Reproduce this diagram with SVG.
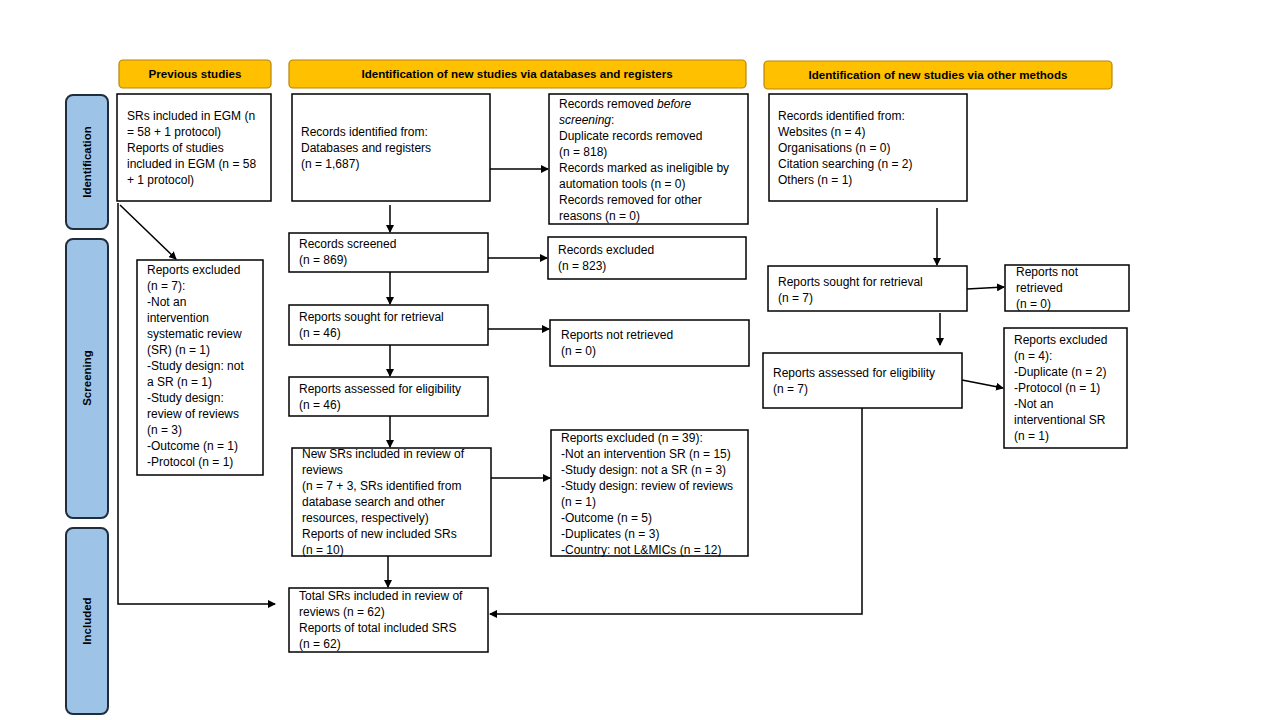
<svg xmlns="http://www.w3.org/2000/svg" width="1280" height="720" viewBox="0 0 1280 720">
<style>
.hdr{fill:#FFC000;stroke:#B8860B;stroke-width:1.2}
.phase{fill:#9DC3E6;stroke:#1F2D3D;stroke-width:2}
.box{fill:#fff;stroke:#000;stroke-width:1.5}
text{font-family:"Liberation Sans",Arial,sans-serif;font-size:12px;fill:#000}
.ht{font-weight:bold;font-size:11.6px;text-anchor:middle}
.pt{font-weight:bold;font-size:11.5px;text-anchor:middle}
.con line,.con polyline{stroke:#000;stroke-width:1.5;fill:none}
</style>
<defs>
<marker id="ah" markerWidth="8" markerHeight="8" refX="7" refY="4" orient="auto" markerUnits="userSpaceOnUse">
<path d="M0,0 L8,4 L0,8 z" fill="#000"/>
</marker>
</defs>
<rect width="1280" height="720" fill="#fff"/>

<g id="hdr-prev"><rect class="hdr" x="119" y="60" width="152" height="28" rx="4"/><text class="ht" x="195" y="78">Previous studies</text></g>
<g id="hdr-db"><rect class="hdr" x="289" y="60" width="457" height="28" rx="4"/><text class="ht" x="517" y="78">Identification of new studies via databases and registers</text></g>
<g id="hdr-other"><rect class="hdr" x="764" y="61" width="348" height="28" rx="4"/><text class="ht" x="938" y="79">Identification of new studies via other methods</text></g>

<g id="phase-ident"><rect class="phase" x="66" y="95" width="42" height="134" rx="7"/><text class="pt" transform="translate(91,162) rotate(-90)">Identification</text></g>
<g id="phase-screen"><rect class="phase" x="66" y="239" width="42" height="279" rx="7"/><text class="pt" transform="translate(91,378) rotate(-90)">Screening</text></g>
<g id="phase-incl"><rect class="phase" x="66" y="528" width="42" height="186" rx="7"/><text class="pt" transform="translate(91,621) rotate(-90)">Included</text></g>

<g id="prev-srs"><rect class="box" x="117" y="94" width="154" height="107"/>
<text x="127" y="120">SRs included in EGM (n</text><text x="127" y="136">= 58 + 1 protocol)</text><text x="127" y="152">Reports of studies</text><text x="127" y="168">included in EGM (n = 58</text><text x="127" y="184">+ 1 protocol)</text></g>

<g id="db-ident"><rect class="box" x="292" y="94" width="198" height="107"/>
<text x="301" y="136">Records identified from:</text><text x="301" y="152">Databases and registers</text><text x="301" y="168">(n = 1,687)</text></g>

<g id="db-removed"><rect class="box" x="549" y="94" width="199" height="130"/>
<text x="559" y="108">Records removed <tspan font-style="italic">before</tspan></text><text x="559" y="124"><tspan font-style="italic">screening</tspan>:</text><text x="559" y="140">Duplicate records removed</text><text x="559" y="156">(n = 818)</text><text x="559" y="172">Records marked as ineligible by</text><text x="559" y="188">automation tools (n = 0)</text><text x="559" y="204">Records removed for other</text><text x="559" y="220">reasons (n = 0)</text></g>

<g id="oth-ident"><rect class="box" x="769" y="94" width="198" height="107"/>
<text x="778" y="120">Records identified from:</text><text x="778" y="136">Websites (n = 4)</text><text x="778" y="152">Organisations (n = 0)</text><text x="778" y="168">Citation searching (n = 2)</text><text x="778" y="184">Others (n = 1)</text></g>

<g id="prev-excl"><rect class="box" x="137" y="260" width="126" height="215"/>
<text x="147" y="274">Reports excluded</text><text x="147" y="290">(n = 7):</text><text x="147" y="306">-Not an</text><text x="147" y="322">intervention</text><text x="147" y="338">systematic review</text><text x="147" y="354">(SR) (n = 1)</text><text x="147" y="370">-Study design: not</text><text x="147" y="386">a SR (n = 1)</text><text x="147" y="402">-Study design:</text><text x="147" y="418">review of reviews</text><text x="147" y="434">(n = 3)</text><text x="147" y="450">-Outcome (n = 1)</text><text x="147" y="466">-Protocol (n = 1)</text></g>

<g id="db-screened"><rect class="box" x="289" y="233" width="199" height="39"/>
<text x="299" y="248">Records screened</text><text x="299" y="264">(n = 869)</text></g>

<g id="db-excl"><rect class="box" x="548" y="237" width="198" height="42"/>
<text x="558" y="254">Records excluded</text><text x="558" y="270">(n = 823)</text></g>

<g id="db-sought"><rect class="box" x="289" y="305" width="199" height="40"/>
<text x="299" y="321">Reports sought for retrieval</text><text x="299" y="337">(n = 46)</text></g>

<g id="db-notret"><rect class="box" x="550" y="320" width="199" height="46"/>
<text x="561" y="339">Reports not retrieved</text><text x="561" y="355">(n = 0)</text></g>

<g id="db-assessed"><rect class="box" x="289" y="377" width="199" height="39"/>
<text x="299" y="393">Reports assessed for eligibility</text><text x="299" y="409">(n = 46)</text></g>

<g id="db-new"><rect class="box" x="292" y="448" width="199" height="108"/>
<text x="302" y="458">New SRs included in review of</text><text x="302" y="474">reviews</text><text x="302" y="490">(n = 7 + 3, SRs identified from</text><text x="302" y="506">database search and other</text><text x="302" y="522">resources, respectively)</text><text x="302" y="538">Reports of new included SRs</text><text x="302" y="554">(n = 10)</text></g>

<g id="db-excl39"><rect class="box" x="551" y="430" width="197" height="126"/>
<text x="561" y="442">Reports excluded (n = 39):</text><text x="561" y="458">-Not an intervention SR (n = 15)</text><text x="561" y="474">-Study design: not a SR (n = 3)</text><text x="561" y="490">-Study design: review of reviews</text><text x="561" y="506">(n = 1)</text><text x="561" y="522">-Outcome (n = 5)</text><text x="561" y="538">-Duplicates (n = 3)</text><text x="561" y="554">-Country: not L&amp;MICs (n = 12)</text></g>

<g id="total"><rect class="box" x="289" y="588" width="199" height="64"/>
<text x="299" y="600">Total SRs included in review of</text><text x="299" y="616">reviews (n = 62)</text><text x="299" y="632">Reports of total included SRS</text><text x="299" y="648">(n = 62)</text></g>

<g id="oth-sought"><rect class="box" x="768" y="266" width="199" height="45"/>
<text x="778" y="286">Reports sought for retrieval</text><text x="778" y="302">(n = 7)</text></g>

<g id="oth-notret"><rect class="box" x="1005" y="265" width="124" height="46"/>
<text x="1016" y="276">Reports not</text><text x="1016" y="292">retrieved</text><text x="1016" y="308">(n = 0)</text></g>

<g id="oth-assessed"><rect class="box" x="763" y="353" width="199" height="55"/>
<text x="773" y="377">Reports assessed for eligibility</text><text x="773" y="393">(n = 7)</text></g>

<g id="oth-excl"><rect class="box" x="1004" y="328" width="123" height="120"/>
<text x="1014" y="344">Reports excluded</text><text x="1014" y="360">(n = 4):</text><text x="1014" y="376">-Duplicate (n = 2)</text><text x="1014" y="392">-Protocol (n = 1)</text><text x="1014" y="408">-Not an</text><text x="1014" y="424">interventional SR</text><text x="1014" y="440">(n = 1)</text></g>

<g id="connectors" class="con">
<line x1="390" y1="205" x2="390" y2="232" marker-end="url(#ah)"/>
<line x1="490" y1="169" x2="548" y2="169" marker-end="url(#ah)"/>
<line x1="488" y1="258" x2="547" y2="258" marker-end="url(#ah)"/>
<line x1="390" y1="272" x2="390" y2="304" marker-end="url(#ah)"/>
<line x1="488" y1="329" x2="549" y2="329" marker-end="url(#ah)"/>
<line x1="390" y1="345" x2="390" y2="376" marker-end="url(#ah)"/>
<line x1="390" y1="416" x2="390" y2="447" marker-end="url(#ah)"/>
<line x1="491" y1="478" x2="550" y2="478" marker-end="url(#ah)"/>
<line x1="388" y1="556" x2="388" y2="587" marker-end="url(#ah)"/>
<polyline points="118,203 118,604 275,604" marker-end="url(#ah)"/>
<line x1="120" y1="205" x2="176" y2="259" marker-end="url(#ah)"/>
<line x1="937" y1="208" x2="937" y2="265" marker-end="url(#ah)"/>
<line x1="967" y1="289" x2="1004" y2="287" marker-end="url(#ah)"/>
<line x1="940" y1="313" x2="940" y2="345" marker-end="url(#ah)"/>
<line x1="962" y1="380" x2="1003" y2="388" marker-end="url(#ah)"/>
<polyline points="862,408 862,614 490,614" marker-end="url(#ah)"/>
</g>
</svg>
